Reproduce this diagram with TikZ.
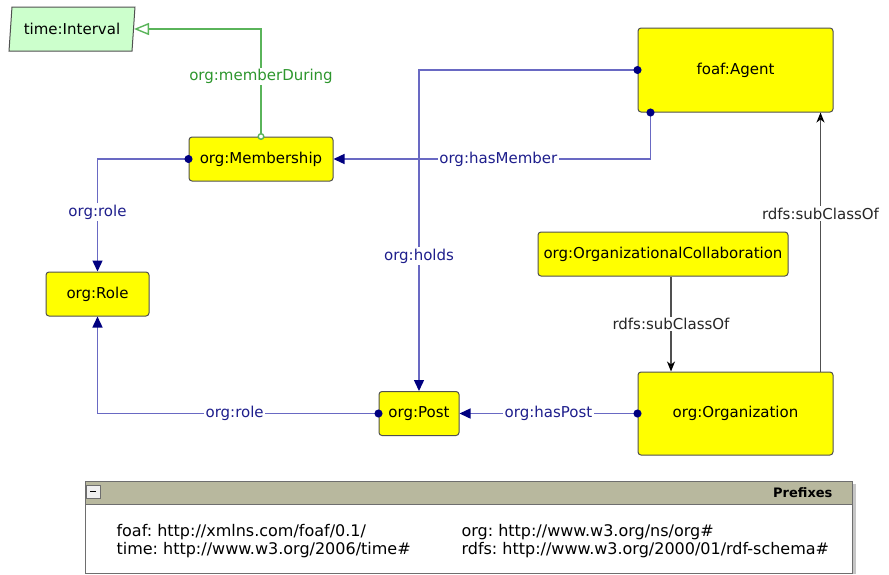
\documentclass[tikz,border=0pt]{standalone}
\usepackage{fontspec}
\setmainfont{DejaVu Sans}
\usetikzlibrary{arrows.meta}
\usetikzlibrary{positioning}
\usetikzlibrary{shapes.geometric}

\definecolor{classfill}{RGB}{255,255,0}
\definecolor{classline}{RGB}{80,80,80}
\definecolor{intervalfill}{RGB}{204,255,204}
\definecolor{linkblue}{RGB}{105,105,195}
\definecolor{tipnavy}{RGB}{0,0,128}
\definecolor{labelnavy}{RGB}{30,30,140}
\definecolor{duringgreen}{RGB}{90,180,90}
\definecolor{duringlabel}{RGB}{45,150,45}
\definecolor{subgray}{RGB}{80,80,80}
\definecolor{panelhead}{RGB}{184,184,158}
\definecolor{panelline}{RGB}{110,110,110}

\newcommand\classfont{\fontsize{15}{18}\selectfont}
\newcommand\prefixtext{\frenchspacing\fontsize{16}{18}\selectfont}
\newcommand\prefixhead{\bfseries\fontsize{13}{16}\selectfont}

\tikzset{
  cls/.style={draw=classline,fill=classfill,rounded corners=3pt,line width=1pt,
    minimum height=44pt,inner sep=2pt,font=\classfont},
  interval/.style={trapezium,trapezium left angle=81,trapezium right angle=99,
    trapezium stretches=true,draw=classline,fill=intervalfill,line width=1pt,
    minimum width=126pt,minimum height=44pt,inner sep=2pt,font=\classfont},
  hv/.style={to path={-| (\tikztotarget) \tikztonodes}},
  vh/.style={to path={|- (\tikztotarget) \tikztonodes}},
  link/.style={color=linkblue,line width=1.4pt,shorten <=-4pt,
    arrows={Circle[length=8pt,color=tipnavy]-Triangle[length=11pt,width=10pt,color=tipnavy]}},
  during/.style={color=duringgreen,line width=1.4pt,shorten <=-3.5pt,
    arrows={Circle[length=7pt,fill=white]-Triangle[open,length=15pt,width=12pt]}},
  sub/.style={color=subgray,line width=1.4pt,
    arrows={-Stealth[length=10pt,width=8pt,inset=3pt,color=black]}},
  lbl/.style={fill=white,inner sep=1.5pt,text=labelnavy,font=\classfont},
  sublbl/.style={lbl,text=black!85},
  duringlbl/.style={lbl,text=duringlabel}
}

\begin{document}
\begin{tikzpicture}
[x=1pt,y=-1pt,on grid]
\useasboundingbox (0,0) rectangle (889,574);
%% classes
\node[cls,minimum width=195pt,minimum height=84pt] (agent) at (735.5,70) {foaf:Agent};
\node[cls,minimum width=195pt,minimum height=83pt] (org) [below=343.5pt of agent] {org:Organization};
\node[cls,minimum width=250pt] (collab) [above left=159.5pt and 72.5pt of org] {org:OrganizationalCollaboration};
\node[cls,minimum width=80pt] (post) [left=316.5pt of org] {org:Post};
\node[cls,minimum width=103pt] (role) [above left=119.5pt and 321.5pt of post] {org:Role};
\node[cls,minimum width=144pt] (membership) [above right=135pt and 163.5pt of role] {org:Membership};
\node[interval] (interval) [above left=130pt and 189pt of membership] {time:Interval};
\coordinate (collabfoot) at ([xshift=8pt]collab.south);
%% object properties
\path[link]
(membership.west) edge[hv] node[lbl,pos=0.735] {org:role} (role.north)
(post.west) edge[hv] node[lbl,pos=0.256] {org:role} (role.south)
(agent.west) edge[hv] node[lbl,pos=0.79] {org:holds} (post.north)
([xshift=13pt]agent.south west) edge[vh] node[lbl,pos=0.74] {org:hasMember} (membership.east)
(org.west) edge node[lbl] {org:hasPost} (post.east);
\path[during]
(membership.north) edge[vh] node[duringlbl,pos=0.28] {org:memberDuring} (interval.east);
%% subclasses
\path[sub]
(collabfoot) edge node[sublbl] {rdfs:subClassOf} (collabfoot |- org.north)
([xshift=-13pt]org.north east) edge node[sublbl,pos=0.61] {rdfs:subClassOf} ([xshift=-13pt]agent.south east);
%% prefixes
\fill[gray!45] (88,484) rectangle (856,574);
\draw[panelline,fill=white] (85,481) rectangle (852,573);
\draw[panelline,fill=panelhead] (85,481) rectangle (852,504);
\node[draw=panelline,fill=gray!12,minimum width=14pt,minimum height=13pt,inner sep=0pt,
  anchor=north west] (fold) at (86,485) {\rule{6pt}{1.5pt}};
\node[anchor=east,font=\prefixhead] (prefixes) at (836,493) {Prefixes};
\node[anchor=base west,font=\prefixtext] (foafns) at (113,536) {foaf: http://xmlns.com/foaf/0.1/};
\node[anchor=base west,font=\prefixtext] (timens) at (113,554) {time: http://www.w3.org/2006/time\#};
\node[anchor=base west,font=\prefixtext] (orgns) at (458,536) {org: http://www.w3.org/ns/org\#};
\node[anchor=base west,font=\prefixtext] (rdfsns) at (458,554) {rdfs: http://www.w3.org/2000/01/rdf-schema\#};
\end{tikzpicture}
\end{document}
